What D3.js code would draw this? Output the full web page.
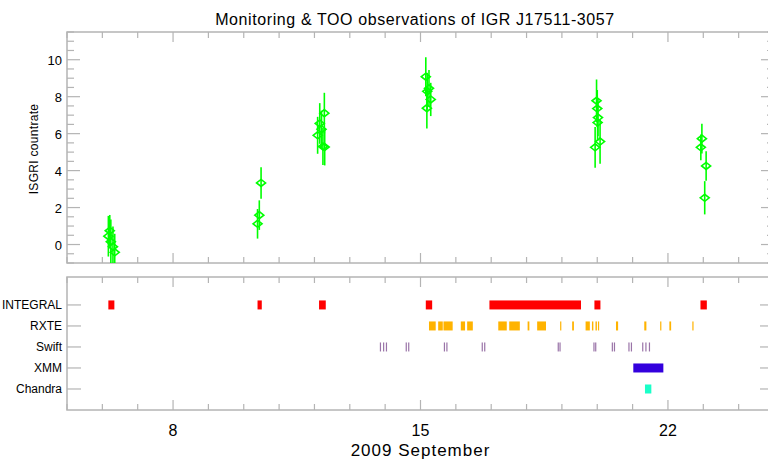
<!DOCTYPE html>
<html>
<head>
<meta charset="utf-8">
<script src="https://cdn.jsdelivr.net/npm/d3@7"></script>
<style>
  body { margin: 0; background: #fff; }
  svg { display: block; font-family: "Liberation Sans", Arial, sans-serif; }
</style>
</head>
<body>
<svg id="canvas" width="768" height="461"></svg>
<script>
// ISGRI light curve (day of September 2009, countrate, error)
let pointDay  = [6.17, 6.21, 6.24, 6.30, 6.35, 10.39, 10.44, 10.49, 12.09, 12.15, 12.20, 12.24, 12.28, 12.29,
                 15.15, 15.18, 15.19, 15.24, 15.29, 19.94, 19.98, 20.00, 20.01, 20.02, 20.08, 22.93, 22.96, 23.04, 23.08];
let pointRate = [0.45, 0.75, 0.15, -0.12, -0.42, 1.12, 1.59, 3.33, 5.91, 6.55, 6.24, 5.30, 7.11, 5.28,
                 9.08, 7.38, 8.29, 8.45, 7.85, 5.26, 7.78, 7.36, 6.60, 6.87, 5.57, 5.26, 5.73, 2.53, 4.25];
let pointErr  = [1.1, 0.85, 1.2, 1.1, 1.0, 0.8, 0.8, 0.85, 1.0, 1.1, 1.0, 1.0, 1.1, 1.0,
                 1.05, 1.1, 1.0, 1.0, 0.9, 1.1, 1.15, 1.0, 1.0, 1.0, 1.2, 0.7, 0.8, 0.9, 0.8];

// observation windows per satellite [start, end] in days of September
let missions = ['INTEGRAL', 'RXTE', 'Swift', 'XMM', 'Chandra'];
let missionColors = ['#ff0000', '#ffb300', '#9a74a8', '#3300dd', '#1affc8'];
let integralObs = [[6.17, 6.34], [10.39, 10.51], [12.13, 12.32], [15.15, 15.33], [16.95, 19.54], [19.92, 20.09], [22.92, 23.10]];
let rxteObs = [[15.24, 15.43], [15.50, 15.63], [15.65, 15.91], [16.14, 16.26], [16.32, 16.48], [17.20, 17.44],
               [17.51, 17.81], [18.03, 18.08], [18.30, 18.55], [18.95, 18.98], [19.29, 19.34], [19.67, 19.79],
               [19.85, 19.89], [19.95, 19.99], [20.02, 20.05], [20.53, 20.59], [21.33, 21.39], [21.78, 21.80],
               [22.04, 22.09], [22.69, 22.72]];
let swiftObs = [[13.85, 13.86], [13.94, 13.95], [14.02, 14.03], [14.58, 14.59], [14.65, 14.66], [15.66, 15.67],
                [15.73, 15.74], [16.73, 16.74], [16.80, 16.81], [18.88, 18.89], [18.93, 18.94], [19.89, 19.90],
                [19.94, 19.95], [20.41, 20.42], [20.47, 20.48], [20.88, 20.89], [20.95, 20.96], [21.27, 21.28],
                [21.36, 21.37], [21.46, 21.47]];
let xmmObs = [[21.02, 21.87]];
let chandraObs = [[21.35, 21.53]];
let allObs = [integralObs, rxteObs, swiftObs, xmmObs, chandraObs];

let dayTicks = d3.range(5, 26);
let majorDays = [8, 15, 22];
let rateTicks = [0, 2, 4, 6, 8, 10];

let canvas = d3.select('#canvas');
let frameColor = '#b4b4b4';

let left = 67, right = 774;
let topY0 = 32, topY1 = 263;
let botY0 = 277, botY1 = 410;

let xScale = d3.scaleLinear().domain([5, 25]).range([left, right]);
let yRate = d3.scaleLinear().domain([-1, 11.5]).range([topY1, topY0]);
let yMission = d3.scaleLinear().domain([-1.33, 5]).range([botY0, botY1]);

// title
canvas.append('text')
    .attr('x', 415).attr('y', 25)
    .attr('text-anchor', 'middle')
    .attr('font-size', 16)
    .attr('letter-spacing', 0.6)
    .text('Monitoring & TOO observations of IGR J17511-3057');

// frames
let drawFrame = (y0, y1) => {
    canvas.append('rect')
        .attr('x', left).attr('y', y0)
        .attr('width', right - left).attr('height', y1 - y0)
        .attr('fill', 'none')
        .attr('stroke', frameColor)
        .attr('stroke-width', 1.5);
    // day ticks top and bottom
    dayTicks.forEach((d) => {
        let len = majorDays.includes(d) ? 10 : 6;
        let x = xScale(d);
        canvas.append('line').attr('x1', x).attr('x2', x).attr('y1', y0).attr('y2', y0 + len)
            .attr('stroke', frameColor).attr('stroke-width', 1.2);
        canvas.append('line').attr('x1', x).attr('x2', x).attr('y1', y1).attr('y2', y1 - len)
            .attr('stroke', frameColor).attr('stroke-width', 1.2);
    });
};
drawFrame(topY0, topY1);
drawFrame(botY0, botY1);

// rate axis ticks
d3.range(-1, 11.51, 0.5).forEach((v) => {
    let major = rateTicks.includes(v);
    let len = major ? 13 : 7;
    let y = yRate(v);
    canvas.append('line').attr('x1', left).attr('x2', left + len).attr('y1', y).attr('y2', y)
        .attr('stroke', frameColor).attr('stroke-width', 1.2);
    canvas.append('line').attr('x1', right).attr('x2', right - len).attr('y1', y).attr('y2', y)
        .attr('stroke', frameColor).attr('stroke-width', 1.2);
});
canvas.selectAll('.ratelabel')
    .data(rateTicks)
    .enter()
    .append('text')
    .attr('class', 'ratelabel')
    .attr('x', 62)
    .attr('y', (d) => yRate(d) + 5)
    .attr('text-anchor', 'end')
    .attr('font-size', 13)
    .text((d) => d);

canvas.append('text')
    .attr('transform', 'translate(38,' + 149 + ') rotate(-90)')
    .attr('text-anchor', 'middle')
    .attr('font-size', 12)
    .attr('letter-spacing', 0.3)
    .text('ISGRI countrate');

// light curve, clipped to the top panel
canvas.append('clipPath').attr('id', 'topclip')
    .append('rect').attr('x', left).attr('y', topY0).attr('width', right - left).attr('height', topY1 - topY0);
let curve = canvas.append('g').attr('clip-path', 'url(#topclip)');
let idx = d3.range(pointDay.length);

curve.selectAll('.errbar')
    .data(idx)
    .enter()
    .append('line')
    .attr('class', 'errbar')
    .attr('x1', (i) => xScale(pointDay[i]))
    .attr('x2', (i) => xScale(pointDay[i]))
    .attr('y1', (i) => yRate(pointRate[i] - pointErr[i]))
    .attr('y2', (i) => yRate(pointRate[i] + pointErr[i]))
    .attr('stroke', '#00ff00')
    .attr('stroke-width', 1.6);

curve.selectAll('.diamond')
    .data(idx)
    .enter()
    .append('path')
    .attr('class', 'diamond')
    .attr('d', (i) => {
        let x = xScale(pointDay[i]), y = yRate(pointRate[i]);
        return 'M' + (x - 4.5) + ',' + y + 'L' + x + ',' + (y - 3.5) + 'L' + (x + 4.5) + ',' + y + 'L' + x + ',' + (y + 3.5) + 'Z';
    })
    .attr('fill', 'none')
    .attr('stroke', '#00ff00')
    .attr('stroke-width', 1.6);

// mission rows
missions.forEach((m, k) => {
    let y = yMission(k);
    canvas.append('line').attr('x1', left).attr('x2', left + 14).attr('y1', y).attr('y2', y)
        .attr('stroke', frameColor).attr('stroke-width', 1.2);
    canvas.append('line').attr('x1', right).attr('x2', right - 14).attr('y1', y).attr('y2', y)
        .attr('stroke', frameColor).attr('stroke-width', 1.2);
    canvas.append('text')
        .attr('x', 62).attr('y', y + 4.5)
        .attr('text-anchor', 'end')
        .attr('font-size', 12)
        .text(m);

    canvas.selectAll('.obs' + k)
        .data(allObs[k])
        .enter()
        .append('rect')
        .attr('class', 'obs' + k)
        .attr('x', (d) => xScale(d[0]))
        .attr('y', y - 4.5)
        .attr('width', (d) => Math.max(1.2, xScale(d[1]) - xScale(d[0])))
        .attr('height', 9)
        .attr('fill', missionColors[k]);
});

// day labels
canvas.selectAll('.daylabel')
    .data(majorDays)
    .enter()
    .append('text')
    .attr('class', 'daylabel')
    .attr('x', (d) => xScale(d))
    .attr('y', 436)
    .attr('text-anchor', 'middle')
    .attr('font-size', 16)
    .text((d) => d);

canvas.append('text')
    .attr('x', (left + right) / 2).attr('y', 456)
    .attr('text-anchor', 'middle')
    .attr('font-size', 17)
    .attr('letter-spacing', 1)
    .text('2009 September');
</script>
</body>
</html>
